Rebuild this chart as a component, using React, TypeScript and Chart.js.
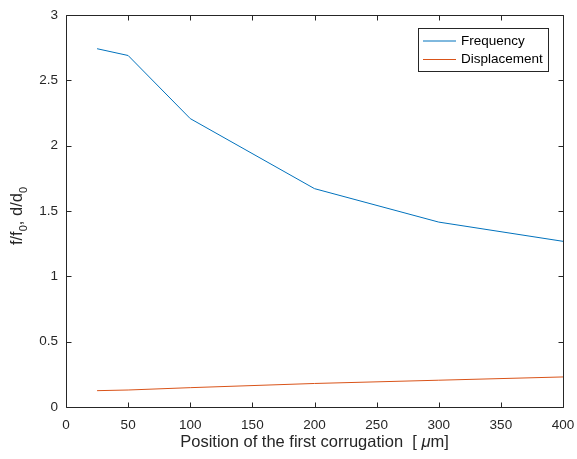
import React, { useEffect, useRef } from "react";
import { Chart, registerables } from "chart.js";

Chart.register(...registerables);

const positions = [25, 50, 100, 200, 300, 400];
const frequency = [2.742, 2.69, 2.207, 1.671, 1.415, 1.268];
const displacement = [0.125, 0.13, 0.148, 0.18, 0.205, 0.23];
const xTicks = [0, 50, 100, 150, 200, 250, 300, 350, 400];
const yTicks = [0, 0.5, 1, 1.5, 2, 2.5, 3];
const seriesLabels = ["Frequency", "Displacement"];
const seriesColors = ["#0072BD", "#D95319"];
const xTitleMain = "Position of the first corrugation  [ ";
const xTitleMu = "\u03BC";
const xTitleEnd = "m]";

const AXIS = "#262626";
const FONT = "'Liberation Sans', Arial, Helvetica, sans-serif";

const framePlugin = {
  id: "frame",
  afterDraw(chart: any) {
    const { ctx, chartArea, scales } = chart;
    const { left, right, top, bottom } = chartArea;
    const x = scales.x;
    const y = scales.y;
    ctx.save();
    ctx.strokeStyle = AXIS;
    ctx.lineWidth = 1;
    ctx.beginPath();
    ctx.rect(left + 0.5, top + 0.5, right - left, bottom - top);
    ctx.stroke();
    const tl = 5;
    ctx.beginPath();
    xTicks.forEach((v) => {
      const px = Math.round(x.getPixelForValue(v)) + 0.5;
      ctx.moveTo(px, bottom + 0.5);
      ctx.lineTo(px, bottom + 0.5 - tl);
      ctx.moveTo(px, top + 0.5);
      ctx.lineTo(px, top + 0.5 + tl);
    });
    yTicks.forEach((v) => {
      const py = Math.round(y.getPixelForValue(v)) + 0.5;
      ctx.moveTo(left + 0.5, py);
      ctx.lineTo(left + 0.5 + tl, py);
      ctx.moveTo(right + 0.5, py);
      ctx.lineTo(right + 0.5 - tl, py);
    });
    ctx.stroke();

    // x-axis title with italic mu
    ctx.fillStyle = AXIS;
    ctx.textBaseline = "alphabetic";
    const xf = "16.5px " + FONT;
    const xfi = "italic 16.5px " + FONT;
    const xparts: [string, string][] = [
      [xTitleMain, xf],
      [xTitleMu, xfi],
      [xTitleEnd, xf],
    ];
    let tw = 0;
    xparts.forEach(([t, f]) => {
      ctx.font = f;
      tw += ctx.measureText(t).width;
    });
    let tx = (left + right) / 2 - tw / 2;
    xparts.forEach(([t, f]) => {
      ctx.font = f;
      ctx.fillText(t, tx, 447);
      tx += ctx.measureText(t).width;
    });

    // y-axis title with subscripts
    const cy = (top + bottom) / 2 + 5;
    ctx.translate(22, cy);
    ctx.rotate(-Math.PI / 2);
    const big = "16.5px " + FONT;
    const small = "11px " + FONT;
    const parts: [string, boolean][] = [
      ["f/f", false],
      ["0", true],
      [", d/d", false],
      ["0", true],
    ];
    let total = 0;
    parts.forEach(([t, s]) => {
      ctx.font = s ? small : big;
      total += ctx.measureText(t).width;
    });
    let cx = -total / 2;
    parts.forEach(([t, s]) => {
      ctx.font = s ? small : big;
      ctx.fillText(t, cx, s ? 5 : 0);
      cx += ctx.measureText(t).width;
    });
    ctx.restore();

    // legend
    ctx.save();
    const lx = 418.5, ly = 28.5, lw = 130, lh = 43;
    ctx.fillStyle = "#ffffff";
    ctx.fillRect(lx, ly, lw, lh);
    ctx.strokeStyle = AXIS;
    ctx.lineWidth = 1;
    ctx.strokeRect(lx, ly, lw, lh);
    ctx.font = "13.5px " + FONT;
    ctx.textBaseline = "middle";
    chart.data.datasets.forEach((ds: any, i: number) => {
      const yy = 41 + i * 18.5;
      ctx.strokeStyle = ds.borderColor;
      ctx.beginPath();
      ctx.moveTo(423, yy);
      ctx.lineTo(456, yy);
      ctx.stroke();
      ctx.fillStyle = "#000000";
      ctx.fillText(ds.label, 461, yy);
    });
    ctx.restore();
  },
};

export default function App() {
  const ref = useRef<HTMLCanvasElement>(null);
  useEffect(() => {
    document.body.style.margin = "0";
    const chart = new Chart(ref.current as HTMLCanvasElement, {
      type: "line",
      data: {
        datasets: [
          {
            label: seriesLabels[0],
            data: positions.map((p, i) => ({ x: p, y: frequency[i] })),
            borderColor: seriesColors[0],
            borderWidth: 1,
            pointRadius: 0,
            fill: false,
            tension: 0,
          },
          {
            label: seriesLabels[1],
            data: positions.map((p, i) => ({ x: p, y: displacement[i] })),
            borderColor: seriesColors[1],
            borderWidth: 1,
            pointRadius: 0,
            fill: false,
            tension: 0,
          },
        ],
      },
      options: {
        responsive: false,
        animation: false,
        layout: { padding: { top: 15, right: 14, left: 0, bottom: 0 } },
        plugins: { legend: { display: false }, tooltip: { enabled: false } },
        scales: {
          x: {
            type: "linear",
            min: 0,
            max: 400,
            grid: { display: false, drawTicks: false },
            border: { display: false },
            afterBuildTicks: (s: any) => {
              s.ticks = xTicks.map((v) => ({ value: v }));
            },
            afterFit: (s: any) => {
              s.height = 52;
              s.paddingLeft = 0;
              s.paddingRight = 0;
            },
            ticks: {
              padding: 10,
              color: AXIS,
              font: { family: FONT, size: 13.5 },
              maxRotation: 0,
              callback: (v: any) => String(v),
            },
          },
          y: {
            type: "linear",
            min: 0,
            max: 3,
            grid: { display: false, drawTicks: false },
            border: { display: false },
            afterBuildTicks: (s: any) => {
              s.ticks = yTicks.map((v) => ({ value: v }));
            },
            afterFit: (s: any) => {
              s.width = 66;
              s.paddingTop = 0;
              s.paddingBottom = 0;
            },
            ticks: {
              padding: 8,
              color: AXIS,
              font: { family: FONT, size: 13.5 },
              callback: (v: any) => String(v),
            },
          },
        },
      },
      plugins: [framePlugin],
    } as any);
    return () => chart.destroy();
  }, []);
  return (
    <div style={{ position: "absolute", left: 0, top: 0, width: 577, height: 459 }}>
      <canvas ref={ref} width={577} height={459} style={{ display: "block" }} />
    </div>
  );
}
